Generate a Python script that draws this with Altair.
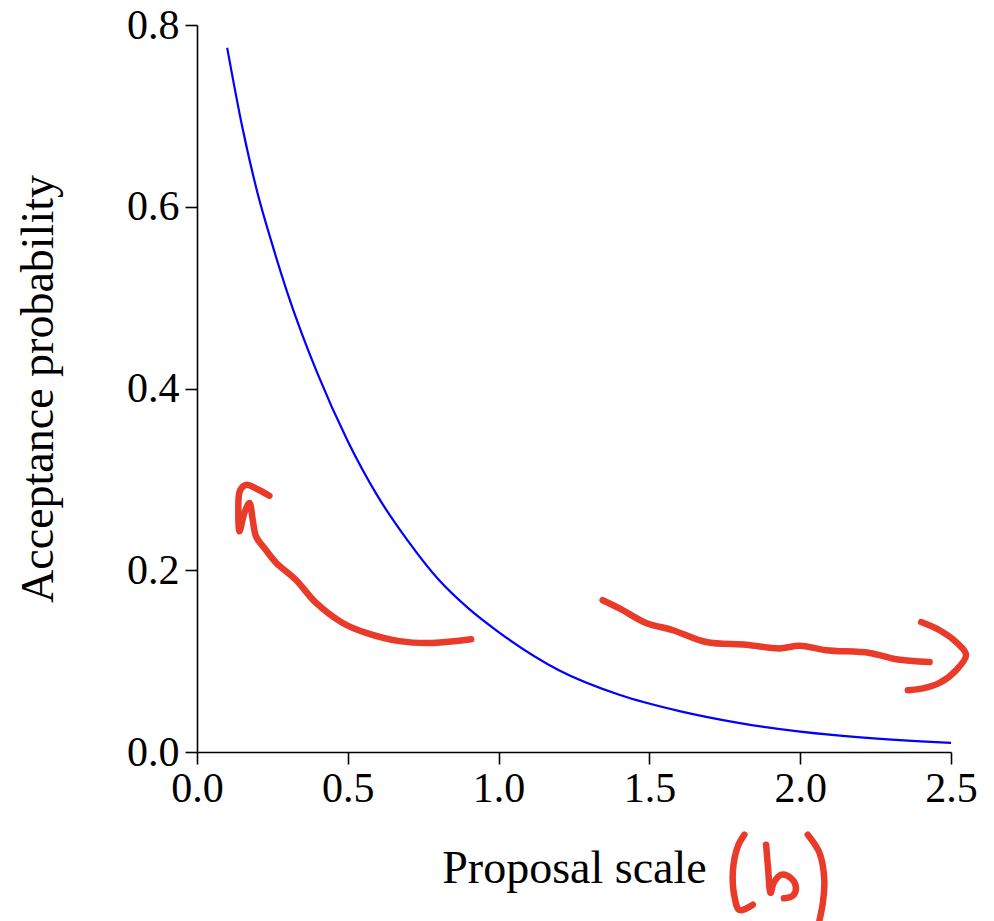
import altair as alt
import pandas as pd

# Blue curve: acceptance probability vs proposal scale
scale_x = [0.1, 0.15, 0.2, 0.25, 0.3, 0.4, 0.5, 0.6, 0.7, 0.8, 0.9, 1.0,
           1.2, 1.4, 1.6, 1.8, 2.0, 2.2, 2.4, 2.5]
accept_y = [0.775, 0.688, 0.616, 0.558, 0.505, 0.416, 0.342, 0.281, 0.232, 0.190,
            0.158, 0.132, 0.090, 0.0630, 0.0450, 0.0318, 0.0224, 0.0161, 0.0117, 0.0100]

# Hand-drawn red annotations, in data units
left_arrow_x = [0.909, 0.782, 0.671, 0.561, 0.483, 0.395, 0.329, 0.263, 0.229, 0.196,
                0.185, 0.174, 0.157, 0.141, 0.137, 0.143, 0.163, 0.196, 0.240]
left_arrow_y = [0.124, 0.120, 0.122, 0.131, 0.142, 0.164, 0.189, 0.208, 0.222, 0.237,
                0.255, 0.274, 0.263, 0.243, 0.263, 0.288, 0.294, 0.290, 0.282]
right_line_x = [1.345, 1.401, 1.489, 1.578, 1.688, 1.821, 1.931, 1.998, 2.086, 2.230,
                2.318, 2.429]
right_line_y = [0.167, 0.158, 0.142, 0.134, 0.121, 0.118, 0.114, 0.117, 0.112, 0.109,
                0.102, 0.099]
right_head_x = [2.401, 2.462, 2.517, 2.550, 2.517, 2.462, 2.407, 2.357]
right_head_y = [0.143, 0.134, 0.121, 0.107, 0.090, 0.076, 0.070, 0.068]
paren_l_x = [1.815, 1.793, 1.777, 1.782, 1.799, 1.843]
paren_l_y = [-0.091, -0.104, -0.130, -0.159, -0.174, -0.168]
letter_b_x = [1.887, 1.893, 1.902, 1.912, 1.938, 1.970, 1.986, 1.976, 1.946]
letter_b_y = [-0.102, -0.126, -0.155, -0.144, -0.135, -0.139, -0.149, -0.158, -0.161]
paren_r_x = [2.025, 2.064, 2.080, 2.075, 2.064]
paren_r_y = [-0.091, -0.111, -0.141, -0.166, -0.185]

x_ticks = [0.0, 0.5, 1.0, 1.5, 2.0, 2.5]
y_ticks = [0.0, 0.2, 0.4, 0.6, 0.8]

curve = pd.DataFrame({"x": scale_x, "y": accept_y, "i": range(len(scale_x))})

rows = []
for sid, (xs, ys) in enumerate([(left_arrow_x, left_arrow_y), (right_line_x, right_line_y),
                                 (right_head_x, right_head_y), (paren_l_x, paren_l_y),
                                 (letter_b_x, letter_b_y), (paren_r_x, paren_r_y)]):
    for i, (a, b) in enumerate(zip(xs, ys)):
        rows.append({"x": a, "y": b, "s": sid, "i": i})
ann = pd.DataFrame(rows)

FONT = "Liberation Serif"
W, H = 754, 727

xs = alt.Scale(domain=[0, 2.5], nice=False, zero=False)
ys = alt.Scale(domain=[0, 0.8], nice=False, zero=False)

xaxis = alt.Axis(values=x_ticks, format=".1f", grid=False, title="Proposal scale",
                 labelFont=FONT, labelFontSize=42, labelColor="black", labelPadding=4,
                 tickSize=12, tickColor="black", tickWidth=1.6,
                 domainColor="black", domainWidth=1.6, labelFlush=False,
                 titleFont=FONT, titleFontSize=46, titleFontWeight="normal", titleColor="black",
                 titleX=W / 2, titleY=130, titleBaseline="alphabetic", titleAlign="center")
yaxis = alt.Axis(values=y_ticks, format=".1f", grid=False, title="Acceptance probability",
                 labelFont=FONT, labelFontSize=42, labelColor="black", labelPadding=6,
                 tickSize=12, tickColor="black", tickWidth=1.6,
                 domainColor="black", domainWidth=1.6, labelFlush=False,
                 titleFont=FONT, titleFontSize=46, titleFontWeight="normal", titleColor="black",
                 titleX=-145, titleY=H / 2, titleBaseline="alphabetic", titleAlign="center",
                 titleAngle=270)

line = alt.Chart(curve).mark_line(color="#0000ff", strokeWidth=2.2, interpolate="monotone").encode(
    x=alt.X("x:Q", scale=xs, axis=xaxis),
    y=alt.Y("y:Q", scale=ys, axis=yaxis),
    order="i:O",
)

red = alt.Chart(ann).mark_line(color="#ea3a29", strokeWidth=6.5, strokeCap="round",
                               strokeJoin="round", interpolate="catmull-rom", clip=False).encode(
    x=alt.X("x:Q", scale=xs),
    y=alt.Y("y:Q", scale=ys),
    detail="s:N",
    order="i:O",
)

chart = alt.layer(line, red).properties(
    width=W, height=H,
    background="white",
    autosize=alt.AutoSizeParams(type="none"),
    padding={"left": 197, "top": 25, "right": 43, "bottom": 169},
).configure_view(strokeWidth=0, stroke=None)

chart.save("out.html", embed_options={"renderer": "svg", "actions": False})
